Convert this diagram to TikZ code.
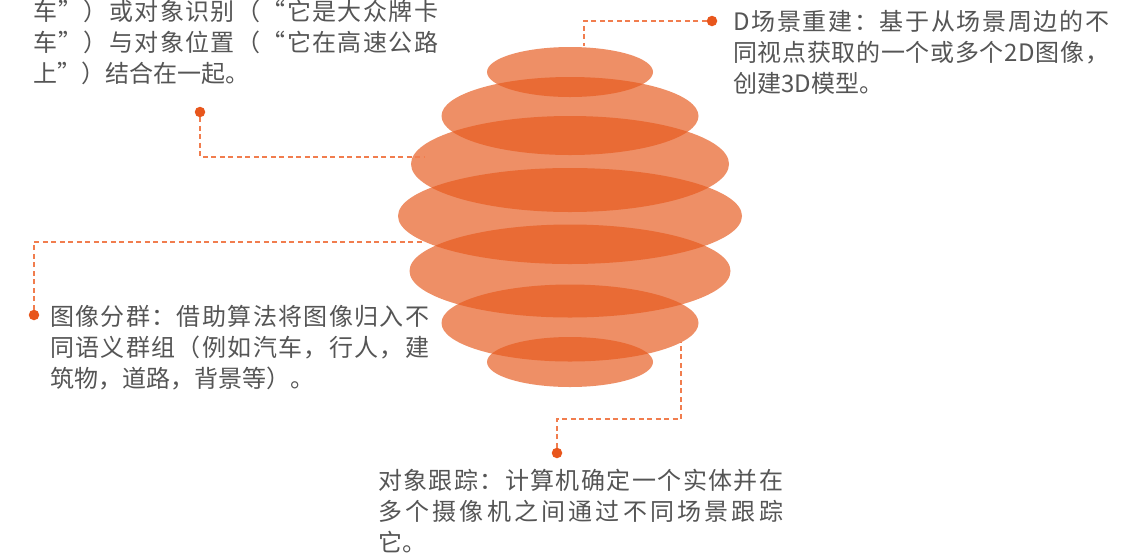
\documentclass[tikz,border=0pt]{standalone}
\usepackage{fontspec}
\newfontfamily\cjk{Noto Sans CJK SC}
\usetikzlibrary{shapes.geometric}
\definecolor{petal}{RGB}{231,90,30}
\definecolor{dotc}{RGB}{232,86,28}
\definecolor{dashc}{RGB}{241,125,78}
\definecolor{txt}{RGB}{85,85,85}
\def\spreadchars#1{\ifx#1\relax\else#1\hskip0pt plus 1fil\expandafter\spreadchars\fi}
\newcommand\jline[2]{\hbox to #1{\spreadchars#2\relax\unskip}}
\newcommand\nline[1]{\hbox{#1}}
\begin{document}
\begin{tikzpicture}[x=1pt,y=-1pt,
 layer/.style={ellipse,fill=petal,fill opacity=0.68,draw=none,inner sep=0pt},
 pin/.style={circle,fill=dotc,draw=none,inner sep=0pt,minimum size=10.5pt},
 lead/.style={draw=dashc,line width=1.4pt,dash pattern=on 5pt off 3.5pt},
 desc/.style={anchor=base west,inner sep=0pt,text=txt,font=\cjk\fontsize{24}{31}\selectfont}]
\path[use as bounding box, fill=white] (0,0) rectangle (1144,558);
% layered ellipses
\node[layer,minimum width=166pt,minimum height=50pt] (e1) at (570,72) {};
\node[layer,minimum width=257pt,minimum height=78pt] (e2) at (570,116) {};
\node[layer,minimum width=318pt,minimum height=96pt] (e3) at (570,164) {};
\node[layer,minimum width=344pt,minimum height=96pt] (e4) at (570,216) {};
\node[layer,minimum width=321pt,minimum height=93pt] (e5) at (570,271) {};
\node[layer,minimum width=257pt,minimum height=77pt] (e6) at (570,323) {};
\node[layer,minimum width=166pt,minimum height=50pt] (e7) at (570,362) {};
% connectors
\node[pin] (p1) at (200,112) {};
\coordinate (c1) at (425,157);
\draw[lead] (p1) |- (c1);
\node[pin] (p2) at (712,21) {};
\coordinate (c2) at (584,46);
\draw[lead] (p2) -| (c2);
\node[pin] (p3) at (34,315) {};
\coordinate (c3) at (425,242);
\draw[lead] (p3) |- (c3);
\node[pin] (p4) at (557,453) {};
\coordinate (k4) at (681,419);
\coordinate (c4) at (681,342);
\draw[lead] (p4) |- (k4) -- (c4);
% texts
\node[desc] (t1) at (33,20.5) {\vtop{\jline{405pt}{车”）或对象识别（“它是大众牌卡}\jline{405pt}{车”）与对象位置（“它在高速公路}\nline{上”）结合在一起。}}};
\node[desc] (t2) at (733,30) {\vtop{\jline{376pt}{D场景重建：基于从场景周边的不}\jline{376pt}{同视点获取的一个或多个2D图像，}\nline{创建3D模型。}}};
\node[desc] (t3) at (50,325.5) {\vtop{\jline{379pt}{图像分群：借助算法将图像归入不}\jline{379pt}{同语义群组（例如汽车，行人，建}\nline{筑物，道路，背景等）。}}};
\node[desc] (t4) at (378,489) {\vtop{\jline{405pt}{对象跟踪：计算机确定一个实体并在}\jline{405pt}{多个摄像机之间通过不同场景跟踪}\nline{它。}}};
\end{tikzpicture}
\end{document}
